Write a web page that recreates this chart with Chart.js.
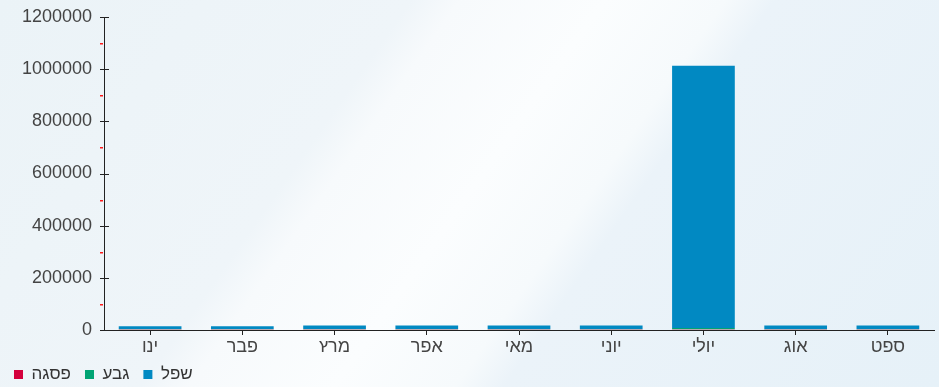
<!DOCTYPE html>
<html>
<head>
<meta charset="utf-8">
<script src="https://cdn.jsdelivr.net/npm/chart.js@4"></script>
<style>
    html, body { margin: 0; padding: 0; }
    body {
        width: 939px; height: 387px; overflow: hidden;
        background: linear-gradient(125deg, #ebf3f7 0%, #eff5f9 34%, #f7fafc 38%, #fbfdfe 50%, #f6fafc 60%, #ebf3f9 64%, #e6f1f8 100%);
    }
    canvas { display: block; }
</style>
</head>
<body>
<canvas id="myChart" width="939" height="387"></canvas>
<script>
(function(){

    var months = ['ינו', 'פבר', 'מרץ', 'אפר', 'מאי', 'יוני', 'יולי', 'אוג', 'ספט'];

    var peak = [3000, 3000, 3000, 3000, 3000, 3000, 3000, 3000, 3000];          // פסגה
    var mid = [500, 500, 500, 500, 500, 500, 5000, 500, 500];                   // גבע
    var low = [11000, 11000, 14000, 14000, 14000, 14000, 1005000, 14000, 14000]; // שפל

    var yMax = 1200000;
    var yStep = 200000;

    // black ticks across the y axis, red ones between them
    var axisTicks = {
        id: 'axisTicks',
        afterDraw: function (chart) {
            var ctx = chart.ctx;
            var y = chart.scales.y;
            var x0 = Math.round(chart.chartArea.left);
            ctx.save();
            for (var v = 0; v <= yMax; v += yStep) {
                var py = Math.round(y.getPixelForValue(v));
                ctx.fillStyle = '#222';
                ctx.fillRect(x0 - 4, py, 9, 1);
                if (v < yMax) {
                    var pm = Math.round(y.getPixelForValue(v + yStep / 2));
                    ctx.fillStyle = '#ff1a1a';
                    ctx.fillRect(x0 - 4, pm, 3, 1.5);
                }
            }
            ctx.restore();
        }
    };

    // legend a little shorter than chart.js makes it, so it sits lower
    var legendFit = {
        id: 'legendFit',
        beforeInit: function (chart) {
            var fit = chart.legend.fit;
            chart.legend.fit = function () {
                fit.bind(chart.legend)();
                this.height -= 6;
            };
        }
    };

    var ctx = document.getElementById('myChart').getContext('2d');
    var chart = new Chart(ctx, {
        type: 'bar',
        data: {
            labels: months,
            datasets: [
                { label: 'פסגה', data: peak, backgroundColor: '#d4003c' },
                { label: 'גבע', data: mid, backgroundColor: '#00a474' },
                { label: 'שפל', data: low, backgroundColor: '#0189c2' }
            ]
        },
        options: {
            responsive: false,
            animation: false,
            devicePixelRatio: 1,
            layout: { padding: { top: 17, right: 5, left: 0, bottom: 0 } },
            datasets: { bar: { categoryPercentage: 1, barPercentage: 0.68 } },
            scales: {
                x: {
                    stacked: true,
                    border: { color: '#222', width: 1 },
                    grid: { display: true, drawOnChartArea: false, offset: false, tickLength: 5, color: '#222' },
                    ticks: { color: '#444', font: { family: 'Liberation Sans', size: 18 }, padding: 1 },
                    afterFit: function (scale) { scale.height = 22; }
                },
                y: {
                    stacked: true,
                    min: 0,
                    max: yMax,
                    border: { color: '#222', width: 1 },
                    grid: { display: true, drawOnChartArea: false, drawTicks: false },
                    ticks: {
                        stepSize: yStep, color: '#444', padding: 12,
                        font: { family: 'Liberation Sans', size: 18 },
                        callback: function (v) { return String(v); }
                    },
                    afterFit: function (scale) {
                        scale.width = 104;
                        scale.paddingTop = 0;
                        scale.paddingBottom = 0;
                    }
                }
            },
            plugins: {
                legend: {
                    position: 'bottom',
                    align: 'start',
                    labels: {
                        boxWidth: 9, boxHeight: 9, padding: 14,
                        color: '#333',
                        font: { family: 'Liberation Sans', size: 17 }
                    }
                },
                tooltip: { enabled: false }
            }
        },
        plugins: [axisTicks, legendFit]
    });

})();
</script>
</body>
</html>
